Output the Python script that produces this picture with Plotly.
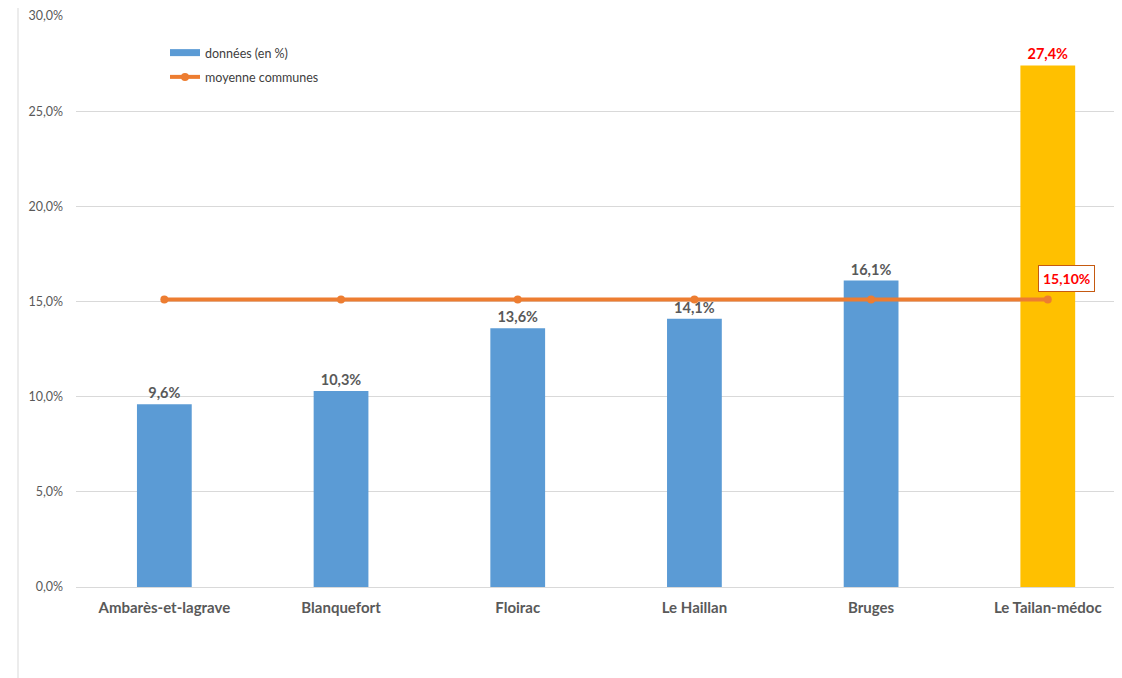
import plotly.graph_objects as go

categories = ["Ambarès-et-lagrave", "Blanquefort", "Floirac", "Le Haillan", "Bruges", "Le Tailan-médoc"]
values = [9.6, 10.3, 13.6, 14.1, 16.1, 27.4]
average = [15.1, 15.1, 15.1, 15.1, 15.1, 15.1]
bar_colors = ["#5B9BD5"] * 5 + ["#FFC000"]
label_colors = ["#595959"] * 5 + ["#FF0000"]
y_ticks = [0, 5, 10, 15, 20, 25, 30]
y_tick_labels = ["0,0%", "5,0%", "10,0%", "15,0%", "20,0%", "25,0%", "30,0%"]

FONT = "Lato, 'Open Sans', sans-serif"

# page has an 8px body margin: compensate
OFF = 8
L = 76 - OFF
T = 16 - OFF
W = 1122
H = 670
PLOT_H = 571
B = H - T - PLOT_H
PLOT_W = 1046

fig = go.Figure()
fig.add_trace(go.Bar(
    x=categories, y=values, name="données (en %)",
    marker=dict(color=bar_colors, line=dict(width=0)),
    width=0.31,
    texttemplate="%{y:.1f}%", textposition="outside",
    textfont=dict(color=label_colors, size=14.5, family=FONT, weight="bold"),
    cliponaxis=False, showlegend=False,
))
# legend entry with a wide rectangle symbol
fig.add_trace(go.Scatter(
    x=[None], y=[None], name="données (en %)", mode="lines",
    line=dict(color="#5B9BD5", width=7), legendgroup="a",
))
fig.add_trace(go.Scatter(
    x=categories, y=average, name="moyenne communes",
    mode="lines+markers", legendgroup="b",
    line=dict(color="#ED7D31", width=4),
    marker=dict(color="#ED7D31", size=8),
))

fig.add_annotation(
    x=categories[-1], y=average[-1], text="<b>15,10%</b>",
    showarrow=False, xshift=19, yshift=21,
    font=dict(color="#FF0000", size=14, family=FONT),
    bgcolor="white", bordercolor="#C55A11", borderwidth=1, borderpad=4,
)

xline = (18 - 76) / PLOT_W
fig.add_shape(type="line", xref="paper", yref="paper",
              x0=xline, x1=xline, y0=-B / PLOT_H, y1=1 + T / PLOT_H,
              line=dict(color="#D9D9D9", width=1))

fig.update_layout(
    width=W, height=H,
    margin=dict(l=L, r=W - L - PLOT_W, t=T, b=B, autoexpand=False),
    paper_bgcolor="white", plot_bgcolor="white",
    separators=", ",
    font=dict(family=FONT, color="#595959"),
    showlegend=True,
    legend=dict(x=(165 - 76) / PLOT_W, y=1 - (38 - 16) / PLOT_H, xanchor="left", yanchor="top",
                font=dict(size=12.5, color="#404040"), bgcolor="rgba(0,0,0,0)",
                tracegroupgap=5),
    xaxis=dict(range=[-0.5, 5.42], showgrid=False, zeroline=False,
               showline=False, ticks="", automargin=False, ticklabelstandoff=10,
               tickfont=dict(size=15, family=FONT, color="#595959", weight="bold")),
    yaxis=dict(range=[0, 30], tickmode="array", tickvals=y_ticks, ticktext=y_tick_labels,
               showgrid=True, gridcolor="#D9D9D9", gridwidth=1,
               zeroline=True, zerolinecolor="#D9D9D9", zerolinewidth=1,
               ticklabelstandoff=12, automargin=False,
               tickfont=dict(size=12.5, color="#595959")),
)

fig.write_html("out.html")
